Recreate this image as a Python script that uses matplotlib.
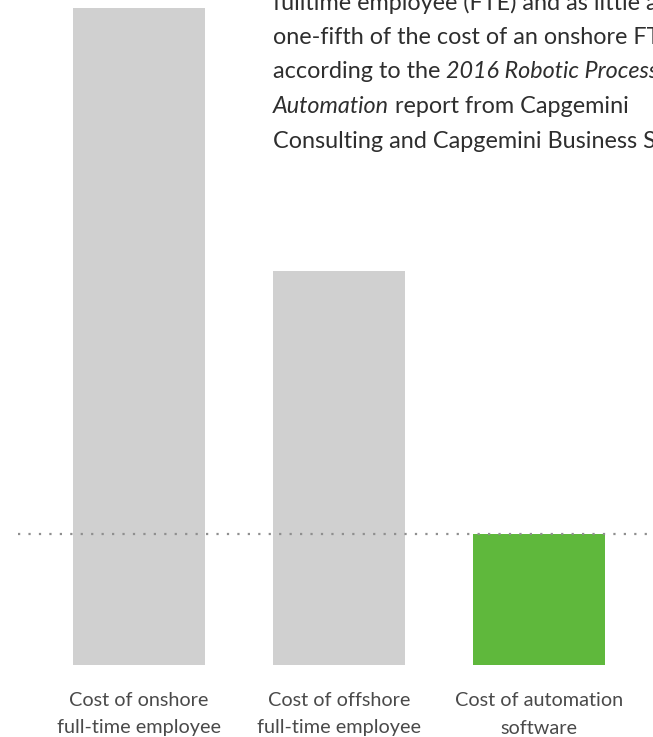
import matplotlib
matplotlib.use("Agg")
import matplotlib.pyplot as plt

categories = ["Cost of onshore\nfull-time employee",
              "Cost of offshore\nfull-time employee",
              "Cost of automation\nsoftware"]
values = [5, 3, 1]
colors = ["#d0d0d0", "#d0d0d0", "#5fb83c"]
reference_level = 1

text_lines = [
    [("fulltime employee (FTE) and as little as", "normal")],
    [("one-fifth of the cost of an onshore FTE,", "normal")],
    [("according to the ", "normal"), ("2016 Robotic Process", "italic")],
    [("Automation", "italic"), (" report from Capgemini", "normal")],
    [("Consulting and Capgemini Business Services.", "normal")],
]

W, H = 653, 737
fig = plt.figure(figsize=(W / 100, H / 100), dpi=100)
ax = fig.add_axes([0, (H - 665) / H, 1, 665 / H])
ax.set_xlim(-0.695, 2.57)
ax.set_ylim(0, 5 * 665 / 657)
ax.axis("off")

x = list(range(len(values)))
ax.bar(x, values, width=0.66, color=colors, zorder=1)
ax.plot([-0.605, 2.6], [reference_level, reference_level], color="#8f8f8f",
        lw=1.6, dashes=(1, 3.7), dash_capstyle="butt", zorder=3, clip_on=False)

for xi, lab in zip(x, categories):
    xpix = ax.transData.transform((xi, 0))[0]
    for j, part in enumerate(lab.split("\n")):
        fig.text(xpix / W, (H - 701 - j * 27) / H, part, ha="center", va="center",
                 fontsize=14.3, family="Lato", color="#4a4a4a")

renderer = fig.canvas.get_renderer()
y0 = H - 3
for i, line in enumerate(text_lines):
    xp = 273
    yp = y0 - i * 34.5
    for s, style in line:
        t = fig.text(xp / W, yp / H, s, fontsize=16.8, family="Lato",
                     style=style, color="#2e2e2e", va="center", ha="left")
        bb = t.get_window_extent(renderer=renderer)
        xp = bb.x1

fig.savefig("out.png", dpi=100)
